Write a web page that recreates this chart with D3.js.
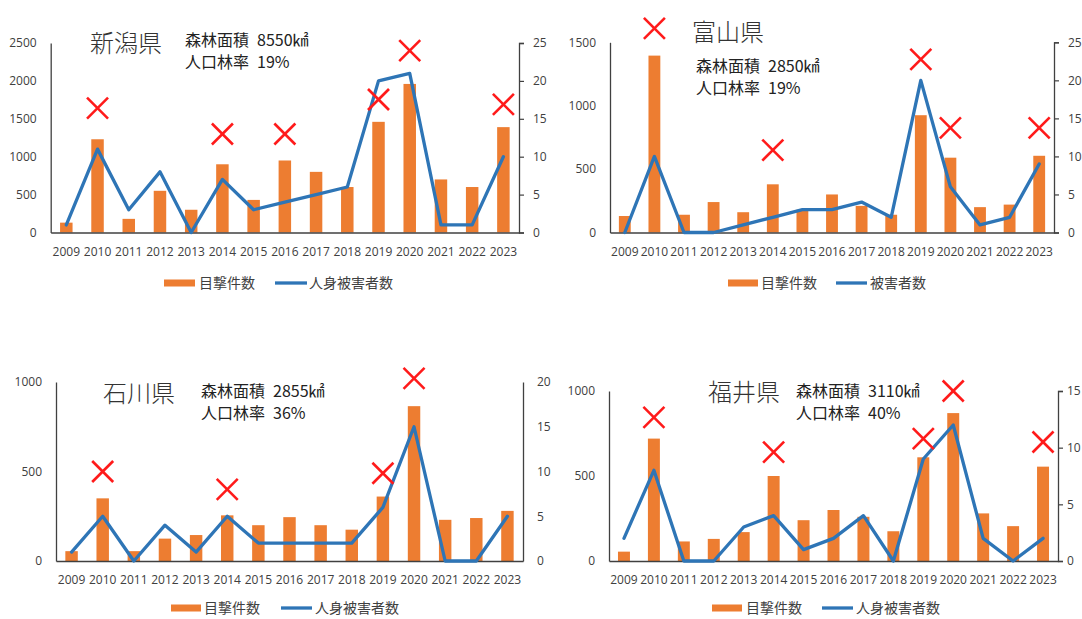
<!DOCTYPE html>
<html>
<head>
<meta charset="utf-8">
<script src="https://cdn.jsdelivr.net/npm/d3@7"></script>
<style>
  html, body { margin: 0; padding: 0; background: #fff; }
  svg { display: block; }
  .tick-label { font-family: "Open Sans", "Noto Sans", sans-serif; font-size: 12px; fill: #404040; }
  .jp { font-family: "Noto Sans CJK JP", sans-serif; fill: #222; }
</style>
</head>
<body>
<svg id="chart" width="1082" height="619"></svg>
<script>
// Years shared by all four prefectures
const years = ["2009","2010","2011","2012","2013","2014","2015","2016","2017","2018","2019","2020","2021","2022","2023"];

// 新潟県
const niigataSightings = [130,1230,180,550,300,900,430,950,800,600,1460,1960,700,600,1390];
const niigataVictims   = [1,11,3,8,0,7,3,4,5,6,20,21,1,1,10];
const niigataMarkYears = ["2010","2014","2016","2019","2020","2023"];
const niigataMarkLevel = [1640,1300,1300,1755,2400,1690];

// 富山県
const toyamaSightings = [130,1395,140,240,160,380,180,300,210,140,925,590,200,220,605];
const toyamaVictims   = [0,10,0,0,1,2,3,3,4,2,20,6,1,2,9];
const toyamaMarkYears = ["2010","2014","2019","2020","2023"];
const toyamaMarkLevel = [1610,650,1365,825,825];

// 石川県
const ishikawaSightings = [55,350,55,125,145,255,200,245,200,175,360,865,230,240,280];
const ishikawaVictims   = [1,5,0,4,1,5,2,2,2,2,6,15,0,0,5];
const ishikawaMarkYears = ["2010","2014","2019","2020"];
const ishikawaMarkLevel = [500,400,490,1020];

// 福井県
const fukuiSightings = [55,720,115,130,170,500,240,300,260,175,610,870,280,205,555];
const fukuiVictims   = [2,8,0,0,3,4,1,2,4,0,9,12,2,0,2];
const fukuiMarkYears = ["2010","2014","2019","2020","2023"];
const fukuiMarkLevel = [845,640,720,1000,700];

// Axis ranges and labels
const leftMax  = [2500, 1500, 1000, 1000];
const leftStep = [500, 500, 500, 500];
const rightMax = [25, 25, 20, 15];
const rightStep = [5, 5, 5, 5];
const prefNames = ["新潟県", "富山県", "石川県", "福井県"];
const forestArea = ["森林面積 8550㎢", "森林面積 2850㎢", "森林面積 2855㎢", "森林面積 3110㎢"];
const plantRate  = ["人口林率 19%", "人口林率 19%", "人口林率 36%", "人口林率 40%"];
const barLegend  = ["目撃件数", "目撃件数", "目撃件数", "目撃件数"];
const lineLegend = ["人身被害者数", "被害者数", "人身被害者数", "人身被害者数"];

const panels = [
  { bars: niigataSightings, line: niigataVictims, markYears: niigataMarkYears, markLevel: niigataMarkLevel,
    box: { l: 50.7, r: 519, t: 43, b: 232.5 }, rightTicks: true, rightPad: 9,
    title: { x: 90, y: 52 }, notes: { x: 185, y1: 46, y2: 68 },
    legend: { y: 283, bar: [164, 195], barText: 199, line: [275, 307], lineText: 309 }, yearY: 256 },
  { bars: toyamaSightings, line: toyamaVictims, markYears: toyamaMarkYears, markLevel: toyamaMarkLevel,
    box: { l: 610, r: 1054, t: 42.3, b: 232.5 }, rightTicks: true, rightPad: 9,
    title: { x: 692, y: 41 }, notes: { x: 696, y1: 72, y2: 94 },
    legend: { y: 283, bar: [728, 758], barText: 761, line: [836, 867], lineText: 870 }, yearY: 256 },
  { bars: ishikawaSightings, line: ishikawaVictims, markYears: ishikawaMarkYears, markLevel: ishikawaMarkLevel,
    box: { l: 56, r: 523, t: 382, b: 561 }, rightTicks: false, rightPad: 14,
    title: { x: 103, y: 402 }, notes: { x: 201, y1: 397, y2: 419 },
    legend: { y: 608, bar: [171, 201], barText: 204, line: [281, 312], lineText: 315 }, yearY: 584 },
  { bars: fukuiSightings, line: fukuiVictims, markYears: fukuiMarkYears, markLevel: fukuiMarkLevel,
    box: { l: 609, r: 1058, t: 391, b: 561 }, rightTicks: true, rightPad: 4,
    title: { x: 708, y: 401 }, notes: { x: 796, y1: 397, y2: 419 },
    legend: { y: 608, bar: [712, 742], barText: 746, line: [822, 853], lineText: 856 }, yearY: 584 }
];

const ORANGE = "#ED7D31", BLUE = "#2E75B6", RED = "#FF1A1A", AXIS = "#404040";
const svg = d3.select("#chart");

// label with a wider gap between the heading word and the figure
function noteText(g, x, y, str) {
  const parts = str.split(" ");
  const t = g.append("text").attr("class", "jp").attr("x", x).attr("y", y).attr("font-size", 16);
  t.append("tspan").text(parts[0]);
  t.append("tspan").attr("dx", 8).text(parts.slice(1).join(" "));
}

panels.forEach((p, i) => {
  const g = svg.append("g");
  const { l, r, t, b } = p.box;

  const x = d3.scaleBand().domain(years).range([l, r]).paddingInner(0.6).paddingOuter(0.3);
  const yL = d3.scaleLinear().domain([0, leftMax[i]]).range([b, t]);
  const yR = d3.scaleLinear().domain([0, rightMax[i]]).range([b, t]);
  const cx = d => x(d) + x.bandwidth() / 2;

  // bars
  g.selectAll("rect.bar").data(p.bars).join("rect")
    .attr("class", "bar")
    .attr("x", (d, k) => x(years[k]))
    .attr("width", x.bandwidth())
    .attr("y", d => yL(d))
    .attr("height", d => yL(0) - yL(d))
    .attr("fill", ORANGE);

  // left axis (line only, no tick marks)
  const leftAxis = d3.axisLeft(yL).tickValues(d3.range(0, leftMax[i] + 1, leftStep[i]))
    .tickFormat(d3.format("d")).tickSize(0).tickPadding(14);
  const ga = g.append("g").attr("transform", `translate(${l},0)`).call(leftAxis);
  ga.select(".domain").attr("stroke", AXIS).attr("stroke-width", 1.3);
  ga.selectAll("text").attr("class", "tick-label");

  // right axis
  const rightAxis = d3.axisRight(yR).tickValues(d3.range(0, rightMax[i] + 1, rightStep[i]))
    .tickFormat(d3.format("d"))
    .tickSize(p.rightTicks ? 5 : 0).tickSizeOuter(p.rightTicks ? 5 : 0).tickPadding(p.rightPad);
  const gr = g.append("g").attr("transform", `translate(${r},0)`).call(rightAxis);
  gr.select(".domain").attr("stroke", AXIS).attr("stroke-width", 1.3);
  gr.selectAll("line").attr("stroke", AXIS).attr("stroke-width", 1.2);
  gr.selectAll("text").attr("class", "tick-label");

  // category axis
  const bottomAxis = d3.axisBottom(x).tickSize(0).tickPadding(0);
  const gb = g.append("g").attr("transform", `translate(0,${b})`).call(bottomAxis);
  gb.select(".domain").attr("stroke", AXIS).attr("stroke-width", 1.3);
  gb.selectAll("text").attr("class", "tick-label").attr("dy", null).attr("y", p.yearY - b);

  // victims line
  const line = d3.line().x((d, k) => cx(years[k])).y(d => yR(d));
  g.append("path").datum(p.line)
    .attr("d", line)
    .attr("fill", "none")
    .attr("stroke", BLUE)
    .attr("stroke-width", 3.3)
    .attr("stroke-linejoin", "round")
    .attr("stroke-linecap", "round");

  // red cross markers
  const s = 10.5;
  const marks = g.selectAll("g.mark").data(p.markYears.map((yv, k) => ({ year: yv, level: p.markLevel[k] })))
    .join("g").attr("class", "mark")
    .attr("transform", d => `translate(${cx(d.year)},${yL(d.level)})`);
  marks.append("line").attr("x1", -s).attr("y1", -s).attr("x2", s).attr("y2", s);
  marks.append("line").attr("x1", -s).attr("y1", s).attr("x2", s).attr("y2", -s);
  marks.selectAll("line").attr("stroke", RED).attr("stroke-width", 2.6);

  // title and notes
  g.append("text").attr("class", "jp").attr("x", p.title.x).attr("y", p.title.y)
    .attr("font-size", 24).attr("font-weight", 300).style("fill", "#333").text(prefNames[i]);
  noteText(g, p.notes.x, p.notes.y1, forestArea[i]);
  noteText(g, p.notes.x, p.notes.y2, plantRate[i]);

  // legend
  const lg = p.legend;
  g.append("rect").attr("x", lg.bar[0]).attr("y", lg.y - 3.5).attr("width", lg.bar[1] - lg.bar[0]).attr("height", 7).attr("fill", ORANGE);
  g.append("text").attr("class", "jp").attr("x", lg.barText).attr("y", lg.y + 5).attr("font-size", 14)
    .style("fill", "#404040").text(barLegend[i]);
  g.append("line").attr("x1", lg.line[0]).attr("x2", lg.line[1]).attr("y1", lg.y).attr("y2", lg.y)
    .attr("stroke", BLUE).attr("stroke-width", 3.3);
  g.append("text").attr("class", "jp").attr("x", lg.lineText).attr("y", lg.y + 5).attr("font-size", 14)
    .style("fill", "#404040").text(lineLegend[i]);
});
</script>
</body>
</html>
